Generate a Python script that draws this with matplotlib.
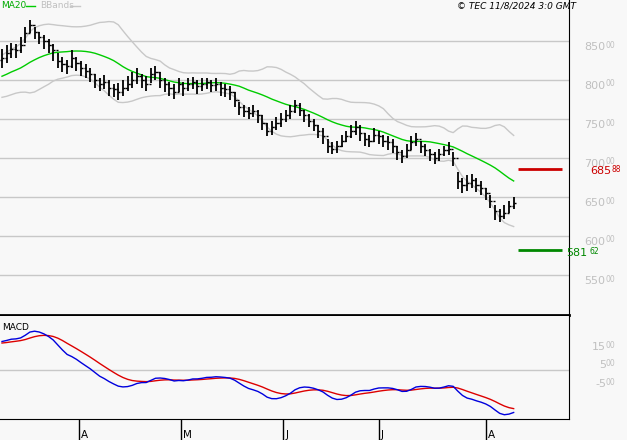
import numpy as np
import pandas as pd
import matplotlib
matplotlib.use("Agg")
import matplotlib.pyplot as plt

history = [742, 745, 743, 748, 752, 750, 756, 760, 758, 764, 768, 766, 772, 776, 774, 780,
           784, 782, 788, 792, 790, 795, 799, 797, 802, 806, 804, 809, 812, 810, 815, 819, 817, 822, 826]
closes = [828, 835, 840, 838, 845, 860, 870, 862, 855, 850,
          845, 838, 825, 820, 818, 828, 822, 815, 812, 808,
          800, 795, 797, 790, 788, 785, 790, 795, 800, 805,
          800, 795, 808, 810, 800, 795, 790, 785, 795, 790,
          795, 798, 792, 795, 797, 793, 795, 790, 788, 785,
          775, 765, 760, 758, 760, 755, 745, 735, 740, 745,
          750, 755, 760, 768, 762, 755, 748, 742, 735, 728,
          715, 712, 715, 722, 728, 735, 740, 732, 725, 722,
          730, 728, 722, 720, 715, 708, 702, 710, 720, 725,
          715, 710, 705, 700, 705, 710, 712, 700, 670, 665,
          668, 672, 665, 662, 655, 645, 632, 625, 630, 638, 642]
highs = [840, 845, 848, 846, 855, 868, 877, 868, 862, 858,
         852, 846, 835, 830, 826, 838, 830, 824, 820, 815,
         808, 803, 806, 800, 795, 796, 800, 805, 810, 815,
         808, 805, 815, 818, 810, 802, 798, 795, 802, 798,
         802, 804, 800, 802, 803, 800, 802, 798, 795, 792,
         785, 772, 768, 765, 768, 762, 755, 745, 748, 752,
         758, 762, 768, 775, 770, 762, 756, 750, 742, 738,
         725, 720, 722, 730, 735, 742, 748, 742, 732, 730,
         738, 735, 730, 728, 724, 716, 710, 718, 728, 732,
         722, 718, 712, 708, 712, 716, 720, 708, 682, 675,
         678, 680, 675, 670, 662, 652, 640, 635, 640, 645, 650]
lows = [815, 822, 828, 828, 835, 848, 860, 852, 846, 840,
        835, 825, 815, 810, 808, 815, 812, 805, 802, 798,
        790, 786, 788, 780, 778, 775, 780, 786, 790, 795,
        790, 786, 796, 800, 790, 785, 780, 776, 784, 780,
        786, 788, 782, 786, 788, 785, 786, 780, 778, 775,
        765, 755, 752, 750, 752, 745, 736, 728, 730, 736,
        740, 746, 750, 758, 754, 746, 740, 734, 726, 718,
        706, 705, 706, 714, 720, 726, 730, 722, 716, 714,
        720, 718, 714, 710, 706, 698, 694, 700, 710, 716,
        706, 702, 696, 692, 696, 702, 704, 690, 660, 655,
        658, 662, 656, 652, 646, 636, 620, 618, 622, 630, 635]
res_level = 685.88
sup_level = 581.62
month_labels = ["A", "M", "J", "J", "A"]
month_pos = [16.5, 38.5, 60.5, 81.0, 104.0]
price_ticks = [850, 800, 750, 700, 650, 600, 550]
macd_ticks = [1500, 500, -500]

allc = pd.Series(history + closes, dtype=float)
n_h = len(history)
ma = allc.rolling(20).mean()
sd = allc.rolling(20).std(ddof=0)
up = (ma + 2 * sd).values[n_h:]
lo = (ma - 2 * sd).values[n_h:]
ma = ma.values[n_h:]
ema12 = allc.ewm(span=12, adjust=False).mean()
ema26 = allc.ewm(span=26, adjust=False).mean()
macd = (ema12 - ema26) * 100
sig = macd.ewm(span=9, adjust=False).mean()
macd = macd.values[n_h:]
sig = sig.values[n_h:]

W, H = 627, 440
fig = plt.figure(figsize=(W / 100, H / 100), dpi=100)
bg = "#f8f8f8"
fig.patch.set_facecolor(bg)
ax = fig.add_axes([0, 1 - 315 / H, 569 / W, 315 / H])
ax2 = fig.add_axes([0, 1 - 419 / H, 569 / W, 103 / H])
for a in (ax, ax2):
    a.set_facecolor(bg)
    for s in ("top", "left"):
        a.spines[s].set_visible(False)
    a.spines["right"].set_color("black")
    a.spines["bottom"].set_color("black")
    a.set_xlim(-0.43, 121.9)
ax.spines["bottom"].set_linewidth(2)

x = np.arange(len(closes))
opens = [history[-1]] + closes[:-1]
for p in price_ticks:
    ax.axhline(p, color="#c8c8c8", lw=1, zorder=0)
ax.plot(x, up, color="#c8c8c8", lw=1)
ax.plot(x, lo, color="#c8c8c8", lw=1)
ax.plot(x, ma, color="#00cc00", lw=1)
ax.vlines(x, lows, highs, color="black", lw=1.3)
ax.hlines(opens, x - 0.45, x, color="black", lw=1)
ax.hlines(closes, x, x + 0.45, color="black", lw=1)
ax.hlines(res_level, 111, 120.3, color="#cc0000", lw=2)
ax.hlines(sup_level, 111, 120.3, color="#008800", lw=2)
ax.set_ylim(498.7, 902.6)
ax.set_xticks([]); ax.set_yticks([])

def px(xp, yp):
    return xp / W, 1 - yp / H

for p in price_ticks:
    yp = 41 + (850 - p) * 0.78 + 6
    fig.text(*px(605, yp), str(p), color="#c0c0c0", fontsize=8, ha="right", va="center")
    fig.text(*px(606, yp - 2), "00", color="#c0c0c0", fontsize=5.5, ha="left", va="center")

fig.text(*px(611, 171), "685", color="#cc0000", fontsize=8, ha="right", va="center")
fig.text(*px(612, 169), "88", color="#cc0000", fontsize=5.5, ha="left", va="center")
fig.text(*px(587, 253), "581", color="#008800", fontsize=8, ha="right", va="center")
fig.text(*px(590, 251), "62", color="#008800", fontsize=5.5, ha="left", va="center")

fig.text(*px(1, 6), "MA20", color="#00aa00", fontsize=6.5, va="center")
fig.add_artist(plt.Line2D([26 / W, 35 / W], [1 - 6 / H] * 2, color="#00cc00", lw=1))
fig.text(*px(40, 6), "BBands", color="#c0c0c0", fontsize=6.5, va="center")
fig.add_artist(plt.Line2D([70 / W, 80 / W], [1 - 6 / H] * 2, color="#c8c8c8", lw=1))
fig.text(*px(576, 6), "© TEC 11/8/2024 3:0 GMT", fontsize=6.5, style="italic", ha="right", va="center")

ax2.axhline(0, color="#c8c8c8", lw=1)
ax2.plot(x, sig, color="#dd0000", lw=1)
ax2.plot(x, macd, color="#0000dd", lw=1)
ax2.set_ylim(-2580, 2840)
ax2.set_yticks([])
ax2.set_xticks(month_pos)
ax2.tick_params(axis="x", length=18, width=1, direction="out", labelsize=0, color="black")
ax2.set_xticklabels([""] * 5)
for mp, lab in zip(month_pos, month_labels):
    ax2.text(mp + 0.4, -0.16, lab, transform=ax2.get_xaxis_transform(), fontsize=7.5, ha="left", va="center")
fig.text(*px(2, 327), "MACD", fontsize=6.5, va="center")
for p, yp in zip(macd_ticks, [347, 365, 384]):
    fig.text(*px(606, yp), str(p)[:-2], color="#c0c0c0", fontsize=8, ha="right", va="center")
    fig.text(*px(606, yp - 2), "00", color="#c0c0c0", fontsize=5.5, ha="left", va="center")

fig.savefig("out.png", dpi=100, facecolor=bg)
